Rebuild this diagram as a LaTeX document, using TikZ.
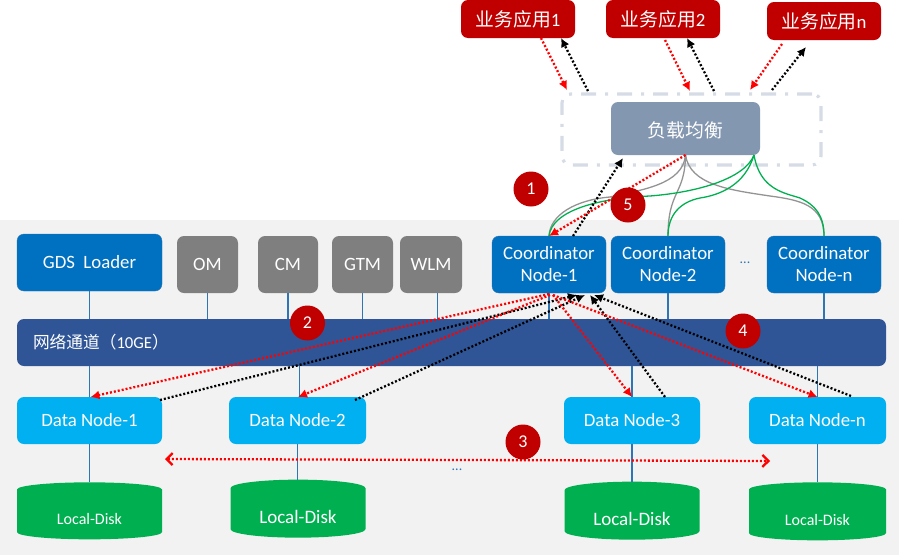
\documentclass[tikz,border=0pt]{standalone}
\usepackage{fontspec}
\setmainfont{Carlito}
\newfontfamily\cjk{Noto Sans CJK SC}
\usetikzlibrary{shapes.geometric,arrows.meta}
\definecolor{appred}{HTML}{C00000}
\definecolor{lbgray}{HTML}{8497B0}
\definecolor{zoneline}{HTML}{D6DCE5}
\definecolor{coordblue}{HTML}{0070C0}
\definecolor{datablue}{HTML}{00B0F0}
\definecolor{netblue}{HTML}{2F5597}
\definecolor{modgray}{HTML}{7F7F7F}
\definecolor{diskgreen}{HTML}{00B050}
\definecolor{linkblue}{HTML}{2E75B6}
\definecolor{panelgray}{HTML}{F2F2F2}
\tikzset{
    box/.style={rectangle, rounded corners=7pt, inner sep=0pt, outer sep=0pt, text=white, align=center, font=\fontsize{18.8}{22}\selectfont},
    appbox/.style={box, fill=appred, minimum width=114pt, minimum height=38pt},
    coordbox/.style={box, fill=coordblue, draw=linkblue, line width=0.4pt, minimum width=114pt, minimum height=57pt},
    modbox/.style={box, fill=modgray, minimum height=57pt},
    databox/.style={box, fill=datablue, minimum height=47pt},
    diskbox/.style={cylinder, shape border rotate=90, aspect=0.22, inner sep=0pt, outer sep=0pt, fill=diskgreen, text=white},
    numdot/.style={circle, fill=appred, text=white, minimum size=35pt, inner sep=0pt, font=\fontsize{18}{20}\selectfont},
    link/.style={linkblue, line width=1.3pt},
    reqline/.style={red, line width=2.3pt, dash pattern=on 2pt off 2pt, -{Latex[length=9pt,width=9pt]}},
    ackline/.style={black, line width=2.3pt, dash pattern=on 2pt off 2pt, -{Latex[length=9pt,width=9pt]}},
    grayline/.style={gray!85, line width=1.3pt},
    greenline/.style={diskgreen, line width=1.3pt}
}
\begin{document}
\begin{tikzpicture}[x=1pt,y=-1pt]
    \useasboundingbox (0,0) rectangle (899,555);
    \fill[panelgray] (0,220) rectangle (899,555);

    \node[appbox] (app1) at (518,19) {{\cjk 业务应用}1};
    \node[appbox] (app2) at (663,19) {{\cjk 业务应用}2};
    \node[appbox] (appn) at (824,21) {{\cjk 业务应用}n};
    \node[rectangle, minimum width=259pt, minimum height=71pt, rounded corners=9pt, inner sep=0pt, outer sep=0pt, draw=zoneline, line width=3.2pt, dash pattern=on 15pt off 9pt on 3pt off 9pt] (lbzone) at (691.5,129.5) {};
    \node[box, fill=lbgray, minimum width=149pt, minimum height=53pt] (lb) at (685.5,128.5) {\raisebox{-9pt}[0pt][0pt]{\cjk 负载均衡}};

    \node[box, fill=coordblue, draw=linkblue, line width=0.4pt, minimum width=145pt, minimum height=57pt] (gds) at (89.5,262.5) {GDS\ \ Loader};
    \node[modbox, minimum width=61pt] (om) at (207.5,264.5) {OM};
    \node[modbox, minimum width=60pt] (cm) at (288,264.5) {CM};
    \node[modbox, minimum width=61pt] (gtm) at (362.5,264.5) {GTM};
    \node[modbox, minimum width=62pt] (wlm) at (431,264.5) {WLM};
    \node[coordbox] (coord1) at (549,264.5) {Coordinator\\Node-1};
    \node[coordbox] (coord2) at (668,264.5) {Coordinator\\Node-2};
    \node[coordbox] (coordn) at (824,264.5) {Coordinator\\Node-n};
    \node[text=linkblue, font=\fontsize{14}{14}\selectfont] (dots1) at (745,263) {...};

    \node[box, fill=netblue, minimum width=869pt, minimum height=47pt, text width=837pt, align=left, font=\fontsize{16.7}{20}\selectfont] (net) at (451.5,342.5) {{\cjk 网络通道（}10GE{\cjk ）}};

    \node[databox, minimum width=145pt] (data1) at (89.5,420.5) {Data Node-1};
    \node[databox, minimum width=137pt] (data2) at (297.5,420.5) {Data Node-2};
    \node[databox, minimum width=136pt] (data3) at (632,420.5) {Data Node-3};
    \node[databox, minimum width=137pt] (datan) at (817.5,420.5) {Data Node-n};

    \node[diskbox, minimum width=145pt, minimum height=57pt, font=\fontsize{16}{18}\selectfont] (disk1) at (89.5,514.5) {\raisebox{-10pt}[0pt][0pt]{Local-Disk}};
    \node[diskbox, minimum width=135pt, minimum height=58pt, font=\fontsize{19}{21}\selectfont] (disk2) at (298,513) {\raisebox{-10pt}[0pt][0pt]{Local-Disk}};
    \node[diskbox, minimum width=135pt, minimum height=58pt, font=\fontsize{19}{21}\selectfont] (disk3) at (632,515) {\raisebox{-10pt}[0pt][0pt]{Local-Disk}};
    \node[diskbox, minimum width=137pt, minimum height=58pt, font=\fontsize{16}{18}\selectfont] (diskn) at (817.5,515) {\raisebox{-10pt}[0pt][0pt]{Local-Disk}};
    \node[text=linkblue, font=\fontsize{14}{14}\selectfont] (dots2) at (457,470) {...};

    \draw[link] (gds.south) -- (gds.south |- net.north);
    \draw[link] (om.south) -- (om.south |- net.north);
    \draw[link] (cm.south) -- (cm.south |- net.north);
    \draw[link] (gtm.south) -- (gtm.south |- net.north);
    \draw[link] ([xshift=6.5pt]wlm.south) -- ([xshift=6.5pt]wlm.south |- net.north);
    \draw[link] (coord1.south) -- (coord1.south |- net.north);
    \draw[link] (coord2.south) -- (coord2.south |- net.north);
    \draw[link] (coordn.south) -- (coordn.south |- net.north);
    \draw[link] (data1.north |- net.south) -- (data1.north);
    \draw[link] ([xshift=2pt]data2.north |- net.south) -- ([xshift=2pt]data2.north);
    \draw[link] (data3.north |- net.south) -- (data3.north);
    \draw[link] (datan.north |- net.south) -- (datan.north);
    \draw[link] (data1.south) -- (data1.south |- disk1.north);
    \draw[link] (data2.south) -- (data2.south |- disk2.north);
    \draw[link] (data3.south) -- (data3.south |- disk3.north);
    \draw[link] (datan.south) -- (datan.south |- diskn.north);

    \draw[grayline] (lb.south) .. controls (683,185) and (640,190) .. (610,197) .. controls (575,200) and (550,215) .. (coord1.north);
    \draw[grayline] (lb.south) .. controls (685,195) and (668,190) .. (coord2.north);
    \draw[grayline] (lb.south) .. controls (690,185) and (730,190) .. (770,196) .. controls (800,200) and (824,205) .. (coordn.north);
    \draw[greenline] ([xshift=-6pt]lb.south east) .. controls (745,178) and (700,192) .. (650,196) .. controls (600,198) and (552,210) .. (coord1.north);
    \draw[greenline] ([xshift=-6pt]lb.south east) .. controls (745,185) and (720,195) .. (700,198) .. controls (680,202) and (668,215) .. (coord2.north);
    \draw[greenline] ([xshift=-6pt]lb.south east) .. controls (760,190) and (785,193) .. (800,198) .. controls (815,205) and (824,215) .. (coordn.north);

    \draw[reqline] ([xshift=23pt]app1.south) -- ([xshift=-124.5pt,yshift=4pt]lbzone.north);
    \draw[ackline] ([xshift=-103.5pt,yshift=3pt]lbzone.north) -- ([xshift=43pt]app1.south);
    \draw[reqline] ([xshift=2pt,yshift=-2pt]app2.south) -- ([xshift=-1.5pt,yshift=3pt]lbzone.north);
    \draw[ackline] ([xshift=22.5pt,yshift=3pt]lbzone.north) -- ([xshift=24pt]app2.south);
    \draw[reqline] ([xshift=-42pt,yshift=-4pt]appn.south) -- ([xshift=58.5pt,yshift=4pt]lbzone.north);
    \draw[ackline] ([xshift=80.5pt,yshift=4pt]lbzone.north) -- ([xshift=-18pt,yshift=-7pt]appn.south);
    \draw[ackline] ([xshift=24pt]coord1.north) -- ([xshift=-62.5pt,yshift=-3pt]lb.south);
    \draw[reqline] (lb.south) -- (coord1.north);

    \draw[reqline] ([yshift=-1pt]coord1.south) -- ([xshift=1pt]data1.north);
    \draw[ackline] ([xshift=70.5pt,yshift=-3pt]data1.north) -- ([xshift=28pt,yshift=-2pt]coord1.south);
    \draw[reqline] ([xshift=1pt,yshift=-2pt]coord1.south) -- ([xshift=0.5pt]data2.north);
    \draw[ackline] ([xshift=57.5pt,yshift=-3pt]data2.north) -- ([xshift=36pt,yshift=-2pt]coord1.south);
    \draw[reqline] ([xshift=4pt,yshift=-2pt]coord1.south) -- (data3.north);
    \draw[ackline] ([xshift=33pt]data3.north) -- ([xshift=41pt,yshift=-2pt]coord1.south);
    \draw[reqline] ([xshift=4pt,yshift=-2pt]coord1.south) -- (datan.north);
    \draw[ackline] ([xshift=33.5pt,yshift=1pt]datan.north) -- ([xshift=45pt,yshift=-2pt]coord1.south);

    \coordinate (ringleft) at (165,459);
    \coordinate (ringright) at (770,461);
    \draw[red, line width=2.3pt, dash pattern=on 2pt off 2pt, {Straight Barb[length=6pt,width=12pt]}-{Straight Barb[length=6pt,width=12pt]}] (ringleft) -- (ringright);

    \node[numdot] (num1) at (531,189) {1};
    \node[numdot] (num2) at (307.5,323) {2};
    \node[numdot] (num3) at (523,442) {3};
    \node[numdot] (num4) at (743,331) {4};
    \node[numdot] (num5) at (628,205) {5};
\end{tikzpicture}
\end{document}
